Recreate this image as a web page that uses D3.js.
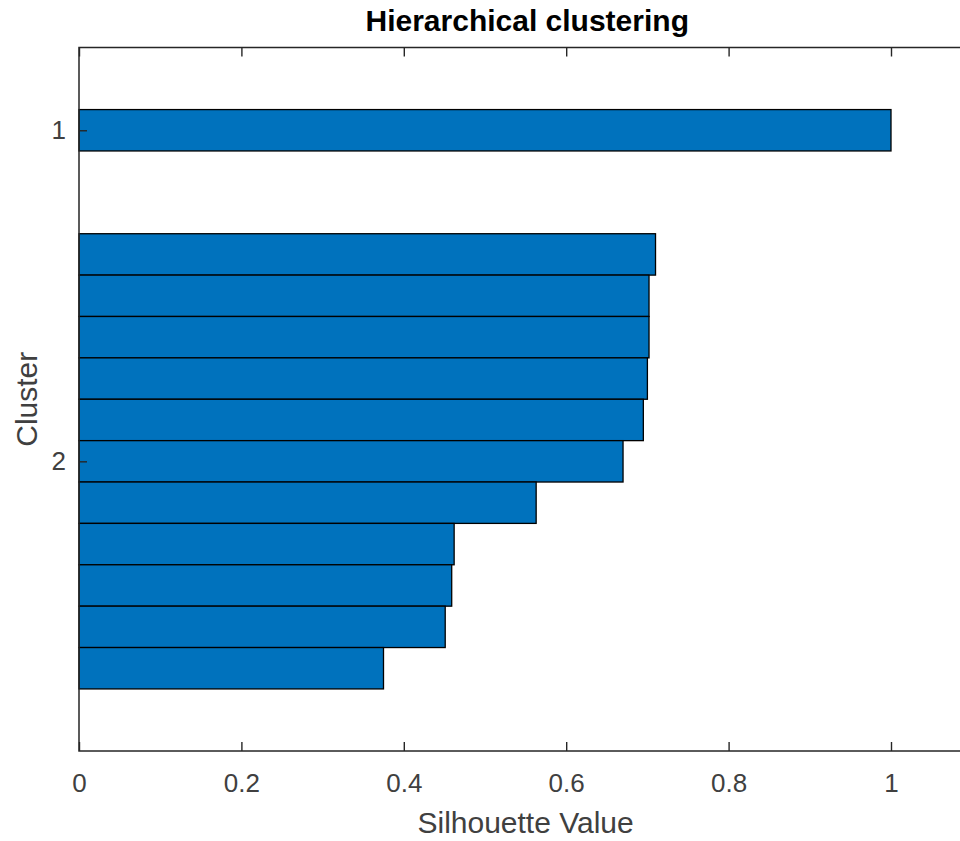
<!DOCTYPE html>
<html>
<head>
<meta charset="utf-8">
<script src="https://cdn.jsdelivr.net/npm/d3@7/dist/d3.min.js"></script>
<style>
  html, body { margin: 0; padding: 0; background: #fff; }
  svg { display: block; }
</style>
</head>
<body>
<svg id="chart" width="960" height="841"></svg>
<script>
// Data
const clusterLabels = ["1", "2"];
const clusterTickPos = [2, 10];
const barPositions = [2, 5, 6, 7, 8, 9, 10, 11, 12, 13, 14, 15];
const silhouetteValues = [1.0, 0.710, 0.702, 0.702, 0.700, 0.695, 0.670, 0.563, 0.462, 0.459, 0.451, 0.375];
const xTicks = [0, 0.2, 0.4, 0.6, 0.8, 1];
const xTickLabels = ["0", "0.2", "0.4", "0.6", "0.8", "1"];

(function () {
const svg = d3.select("#chart");
const mLeft = 79, mTop = 47.5, mBottom = 751;
const pxPerUnit = 812;
const xMax = 1.1;
const x = d3.scaleLinear().domain([0, xMax]).range([mLeft, mLeft + xMax * pxPerUnit]);
const y = d3.scaleLinear().domain([0, 17]).range([mTop, mBottom]);
const mRight = x(xMax);
const axisColor = "#262626";
const font = "'Liberation Sans', Arial, Helvetica, sans-serif";

// Bars
const data = barPositions.map((p, i) => ({ p, v: silhouetteValues[i] }));
svg.append("g").selectAll("rect").data(data).join("rect")
  .attr("x", x(0))
  .attr("y", d => y(d.p - 0.5))
  .attr("width", d => x(d.v) - x(0))
  .attr("height", d => y(d.p + 0.5) - y(d.p - 0.5))
  .attr("fill", "#0072BD")
  .attr("stroke", "#000")
  .attr("stroke-width", 1.3);

// Box
svg.append("rect")
  .attr("x", mLeft).attr("y", mTop)
  .attr("width", mRight - mLeft).attr("height", mBottom - mTop)
  .attr("fill", "none").attr("stroke", axisColor).attr("stroke-width", 1.5);

// X axis (bottom, ticks inward)
const xAxis = d3.axisBottom(x).tickValues(xTicks)
  .tickFormat((d, i) => xTickLabels[i]).tickSizeInner(-9).tickSizeOuter(0).tickPadding(23);
const gx = svg.append("g").attr("transform", `translate(0,${mBottom})`).call(xAxis);
gx.select(".domain").remove();
gx.selectAll("line").attr("stroke", axisColor).attr("stroke-width", 1.4);
gx.selectAll("text").attr("fill", "#404040").style("font-family", font).style("font-size", "26px");

// X axis top ticks
const xAxisTop = d3.axisTop(x).tickValues(xTicks).tickFormat("").tickSizeInner(-9).tickSizeOuter(0);
const gxt = svg.append("g").attr("transform", `translate(0,${mTop})`).call(xAxisTop);
gxt.select(".domain").remove();
gxt.selectAll("line").attr("stroke", axisColor).attr("stroke-width", 1.4);

// Y axis
const yAxis = d3.axisLeft(y).tickValues(clusterTickPos)
  .tickFormat((d, i) => clusterLabels[i]).tickSizeInner(-8).tickSizeOuter(0).tickPadding(13);
const gy = svg.append("g").attr("transform", `translate(${mLeft},0)`).call(yAxis);
gy.select(".domain").remove();
gy.selectAll("line").attr("stroke", axisColor).attr("stroke-width", 1.4);
gy.selectAll("text").attr("fill", "#404040").style("font-family", font).style("font-size", "26px");

// Axis labels
svg.append("text").attr("x", x(0.55)).attr("y", 833)
  .attr("text-anchor", "middle").attr("fill", "#404040")
  .style("font-family", font).style("font-size", "30px")
  .text("Silhouette Value");
svg.append("text").attr("transform", `translate(37,${(mTop + mBottom) / 2}) rotate(-90)`)
  .attr("text-anchor", "middle").attr("fill", "#404040")
  .style("font-family", font).style("font-size", "30px")
  .text("Cluster");

// Title
svg.append("text").attr("x", x(0.552)).attr("y", 31)
  .attr("text-anchor", "middle").attr("fill", "#000")
  .style("font-family", font).style("font-size", "30px").style("font-weight", "bold")
  .text("Hierarchical clustering");
})();
</script>
</body>
</html>
